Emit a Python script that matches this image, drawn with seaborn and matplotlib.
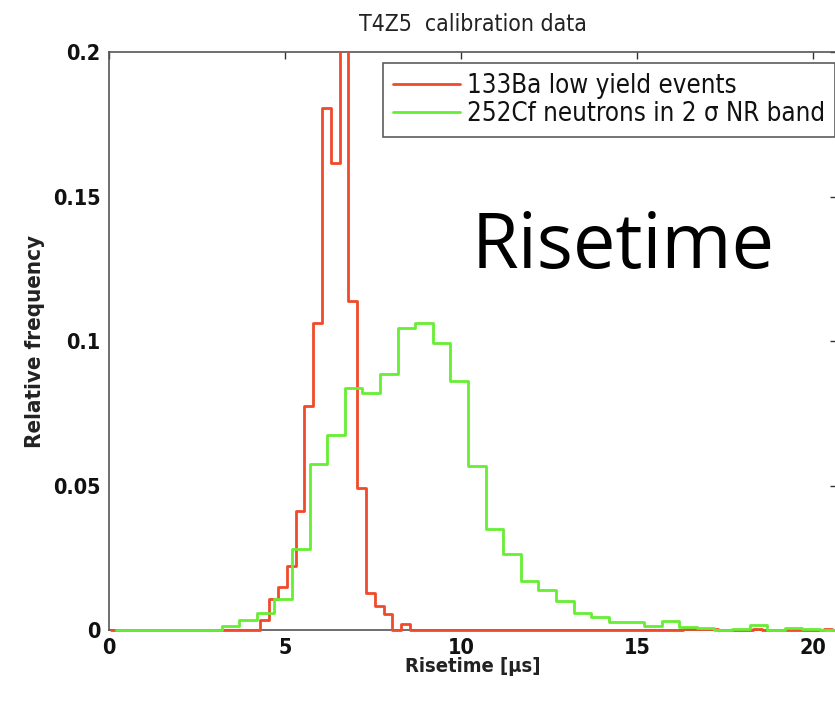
import numpy as np
import pandas as pd
import matplotlib
matplotlib.use("Agg")
import matplotlib.pyplot as plt
from matplotlib.lines import Line2D
from matplotlib.transforms import Bbox, TransformedBbox
import seaborn as sns

# ---------------- data ----------------
title = "T4Z5  calibration data"
x_label = "Risetime [\u03bcs]"
y_label = "Relative frequency"
red_label = "133Ba low yield events"
green_label = "252Cf neutrons in 2 \u03c3 NR band"
overlay_text = "Risetime"

x_ticks = [0, 5, 10, 15, 20]
x_tick_labels = ["0", "5", "10", "15", "20"]
y_ticks = [0, 0.05, 0.1, 0.15, 0.2]
y_tick_labels = ["0", "0.05", "0.1", "0.15", "0.2"]

# 133Ba: bins of 0.25 us, first edge 0.05
red_first_edge = 0.05
red_bin_width = 0.25
red_values = [
    0, 0, 0, 0, 0, 0, 0, 0, 0, 0,
    0, 0, 0, 0, 0, 0, 0, 0.0035, 0.0106, 0.0150,
    0.0222, 0.0412, 0.0776, 0.1064, 0.1807, 0.1618, 0.2100, 0.1140, 0.0490, 0.0127,
    0.0083, 0.0057, 0, 0.0020, 0, 0, 0, 0, 0, 0,
    0, 0, 0, 0, 0, 0, 0, 0, 0, 0,
    0, 0, 0, 0, 0, 0, 0, 0, 0, 0,
    0, 0, 0, 0, 0, 0.0004, 0.0004, 0.0004, 0.0004, 0,
    0, 0, 0, 0.0004, 0, 0, 0, 0, 0, 0,
    0, 0.0004, 0,
]

# 252Cf: bins of 0.5 us, first edge 0.2
green_first_edge = 0.2
green_bin_width = 0.5
green_values = [
    0, 0, 0, 0, 0, 0, 0.0015, 0.0035, 0.0058, 0.0106,
    0.0280, 0.0574, 0.0675, 0.0839, 0.0822, 0.0886, 0.1045, 0.1064, 0.0995, 0.0862,
    0.0567, 0.0350, 0.0262, 0.0168, 0.0140, 0.0102, 0.0060, 0.0045, 0.0026, 0.0026,
    0.0014, 0.0030, 0.0009, 0.0008, 0, 0.0005, 0.0016, 0, 0.0006, 0.0004,
    0,
]

red_color = "#f04a2a"
green_color = "#66ee33"

# ---------------- bins ----------------
red_edges = [red_first_edge + red_bin_width * i for i in range(len(red_values) + 1)]
red_centers = [e + red_bin_width / 2 for e in red_edges[:-1]]
green_edges = [green_first_edge + green_bin_width * i for i in range(len(green_values) + 1)]
green_centers = [e + green_bin_width / 2 for e in green_edges[:-1]]

red_df = pd.DataFrame({"risetime": red_centers, "freq": red_values})
green_df = pd.DataFrame({"risetime": green_centers, "freq": green_values})

# ---------------- plot ----------------
sns.set_theme(style="white")
plt.rcParams["font.family"] = ["DejaVu Sans"]
COND = dict(family="DejaVu Sans", stretch="condensed")

W, H = 835, 702
fig = plt.figure(figsize=(W / 100, H / 100), dpi=100)
left_px, right_px, top_px, bottom_px = 109, 837, 52.3, 630
ax = fig.add_axes([left_px / W, 1 - bottom_px / H,
                   (right_px - left_px) / W, (bottom_px - top_px) / H])

lw = 2.0
sns.histplot(data=red_df, x="risetime", weights="freq", bins=red_edges,
             element="step", fill=False, color=red_color, linewidth=lw, ax=ax)
sns.histplot(data=green_df, x="risetime", weights="freq", bins=green_edges,
             element="step", fill=False, color=green_color, linewidth=lw, ax=ax)

# let the zero-level runs show on top of the bottom axis line
clip = TransformedBbox(Bbox([[0, -0.02], [1, 1]]), ax.transAxes)
for ln in ax.lines:
    ln.set_clip_box(clip)
    ln.set_zorder(3)

x_max = (right_px - left_px) / 35.2
ax.set_xlim(0, x_max)
ax.set_ylim(0, 0.2)
ax.set_xticks(x_ticks)
ax.set_xticklabels(x_tick_labels)
ax.set_yticks(y_ticks)
ax.set_yticklabels(y_tick_labels)
ax.tick_params(direction="in", length=5, width=1, color="#333333",
               top=True, right=True, labelsize=15.5, pad=6, labelcolor="#111111")
for lab in ax.get_xticklabels() + ax.get_yticklabels():
    lab.set_fontweight("bold")
    lab.set_fontstretch("condensed")
for s in ax.spines.values():
    s.set_color("#555555")
    s.set_linewidth(1.2)

ax.set_xlabel(x_label, fontsize=14.5, fontweight="bold", color="#222222", labelpad=-1, **COND)
ax.set_ylabel(y_label, fontsize=16, fontweight="bold", color="#222222", labelpad=6, **COND)
ax.set_title(title, fontsize=16.5, color="#222222", pad=15, **COND)

handles = [Line2D([], [], color=red_color, lw=lw),
           Line2D([], [], color=green_color, lw=lw)]
leg = ax.legend(handles, [red_label, green_label], loc="upper left",
                bbox_to_anchor=((383 - left_px) / (right_px - left_px),
                                1 - (63 - top_px) / (bottom_px - top_px)),
                borderaxespad=0, prop=dict(size=18.5, **COND),
                handlelength=2.6, handletextpad=0.3,
                frameon=True, fancybox=False, borderpad=0.38, labelspacing=0.1)
leg.get_frame().set_edgecolor("#333333")
leg.get_frame().set_linewidth(1.2)
for t in leg.get_texts():
    t.set_color("#111111")

fig.text(472 / W, 1 - 268 / H, overlay_text, fontsize=54.5, family="Open Sans",
         color="black", ha="left", va="baseline")

fig.savefig("out.png", dpi=100)
